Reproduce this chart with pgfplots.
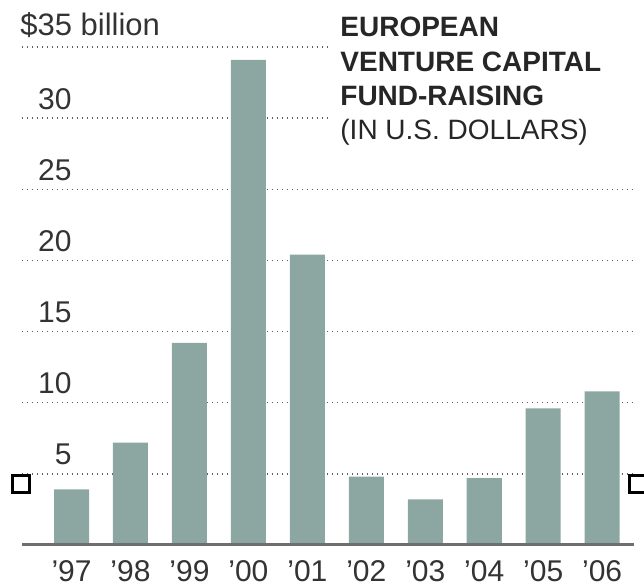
\documentclass[border=0pt]{standalone}
\usepackage{pgfplots}
\pgfplotsset{compat=1.18}
\usepackage{fontspec}
\setmainfont{Liberation Sans}

\definecolor{barcol}{RGB}{140,167,162}
\definecolor{basecol}{RGB}{110,110,110}
\definecolor{gridcol}{RGB}{95,95,95}

\begin{document}
\begin{tikzpicture}
  % frame of the whole picture (axis box starts at 0,0)
  \path[use as bounding box] (-11pt,-21.5pt) rectangle (311pt,272.5pt);
  \begin{axis}[
      scale only axis,
      width=306pt, height=249pt,
      xmin=-0.84, xmax=9.54,
      ymin=0, ymax=35,
      axis line style={draw=none},
      clip=false,
      ybar,
      bar width=0.594,
      xtick={0,...,9},
      xticklabels={'97,'98,'99,'00,'01,'02,'03,'04,'05,'06},
      ytick={5,10,...,35},
      yticklabels={5,10,15,20,25,30,},
      ymajorgrids,
      major grid style={gridcol, line width=0.75pt, dash pattern=on 0.7pt off 1.8pt},
      major tick length=0pt,
      tick style={draw=none},
      tick label style={font=\fontsize{15}{18}\selectfont, text=black!80},
      yticklabel style={anchor=base east, inner sep=0pt, xshift=25pt, yshift=4.5pt},
      xticklabel style={anchor=base, inner sep=0pt, yshift=-18.5pt},
    ]
    \addplot[fill=barcol, draw=none] coordinates {
      (0,3.9) (1,7.2) (2,14.2) (3,34.1) (4,20.4)
      (5,4.8) (6,3.2) (7,4.7) (8,9.6) (9,10.8)
    };
    \draw[basecol, line width=1.5pt] (rel axis cs:0,0) -- (rel axis cs:1,0);
    % small frame marks at both sides
    \node[draw=black, line width=1.5pt, minimum size=8.5pt, inner sep=0pt] at (axis cs:-0.857,4.29) {};
    \node[draw=black, line width=1.5pt, minimum size=8.5pt, inner sep=0pt, anchor=west] at (axis cs:9.43,4.29) {};
  \end{axis}
  \fill[white] (154pt,186pt) rectangle (306pt,270pt);
  \node[anchor=base west, inner sep=0pt, font=\fontsize{15.5}{18}\selectfont, text=black!80] at (-1pt,254.5pt) {\$35 billion};
  \begin{scope}[every node/.style={anchor=base west, inner sep=0pt, text=black!85}]
    \node[font=\bfseries\fontsize{14}{16}\selectfont] at (159pt,254pt) {EUROPEAN};
    \node[font=\bfseries\fontsize{14}{16}\selectfont] at (159pt,236.5pt) {VENTURE CAPITAL};
    \node[font=\bfseries\fontsize{14}{16}\selectfont] at (159pt,219.5pt) {FUND-RAISING};
    \node[font=\fontsize{14}{16}\selectfont] at (159pt,202.5pt) {(IN U.S. DOLLARS)};
  \end{scope}
\end{tikzpicture}
\end{document}
